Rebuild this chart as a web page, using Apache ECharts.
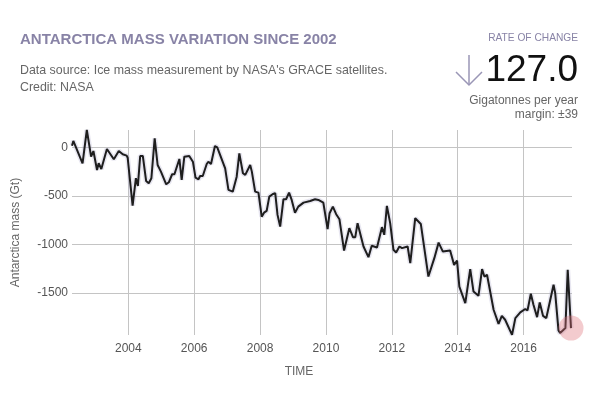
<!DOCTYPE html>
<html>
<head>
<meta charset="utf-8">
<script src="https://cdn.jsdelivr.net/npm/echarts@6/dist/echarts.min.js"></script>
<style>
html,body{margin:0;padding:0;background:#fff;}
#chart{width:600px;height:394px;}
</style>
</head>
<body>
<div id="chart"></div>
<script>
var years = [
2002.29,2002.33,2002.61,2002.74,2002.87,2002.94,2003.05,2003.10,2003.18,2003.35,
2003.56,2003.71,2003.83,2003.95,2003.98,2004.13,2004.23,2004.29,2004.36,2004.44,
2004.54,2004.62,2004.70,2004.80,2004.89,2004.99,2005.15,2005.23,2005.33,2005.40,
2005.55,2005.62,2005.70,2005.85,2005.96,2006.04,2006.13,2006.18,2006.26,2006.38,
2006.43,2006.51,2006.63,2006.70,2006.94,2007.04,2007.09,2007.17,2007.29,2007.37,
2007.48,2007.55,2007.70,2007.75,2007.85,2007.95,2008.05,2008.12,2008.20,2008.28,
2008.39,2008.46,2008.53,2008.61,2008.71,2008.79,2008.88,2008.96,2009.06,2009.16,
2009.32,2009.52,2009.67,2009.77,2009.92,2009.98,2010.05,2010.11,2010.21,2010.31,
2010.41,2010.55,2010.71,2010.82,2010.89,2010.96,2011.14,2011.29,2011.39,2011.55,
2011.70,2011.77,2011.85,2011.95,2012.05,2012.13,2012.23,2012.31,2012.48,2012.56,
2012.71,2012.88,2013.11,2013.29,2013.42,2013.55,2013.77,2013.89,2013.98,2014.05,
2014.23,2014.38,2014.48,2014.63,2014.74,2014.81,2014.89,2015.09,2015.14,2015.24,
2015.29,2015.34,2015.44,2015.65,2015.75,2015.90,2016.05,2016.12,2016.22,2016.30,
2016.41,2016.49,2016.59,2016.69,2016.91,2016.96,2017.06,2017.11,2017.27,2017.34,
2017.44
];
// Antarctica mass change (Gt)
var massGt = [
16,65,-164,178,-96,-38,-233,-164,-223,-17,
-123,-38,-72,-86,-107,-600,-318,-397,-89,-89,
-346,-370,-318,92,-182,-250,-380,-360,-277,-277,
-120,-336,-96,-89,-148,-312,-329,-295,-295,-172,
-148,-172,13,0,-216,-438,-431,-456,-302,-62,
-267,-284,-182,-250,-456,-466,-713,-672,-654,-507,
-480,-472,-695,-815,-534,-534,-466,-541,-672,-610,
-569,-552,-534,-541,-569,-575,-842,-678,-610,-688,
-740,-1062,-832,-924,-924,-780,-1020,-1129,-1013,-1031,
-821,-900,-603,-780,-1054,-1082,-1020,-1037,-1020,-1191,
-729,-788,-1329,-1140,-980,-1072,-1062,-1209,-1165,-1432,
-1602,-1253,-1483,-1527,-1253,-1329,-1311,-1670,-1688,-1815,
-1825,-1733,-1773,-1928,-1756,-1698,-1663,-1677,-1506,-1619,
-1746,-1595,-1733,-1756,-1414,-1499,-1883,-1910,-1859,-1260,
-1859
];
var titleText = 'ANTARCTICA MASS VARIATION SINCE 2002';
var subtitleLines = ["Data source: Ice mass measurement by NASA's GRACE satellites.", 'Credit: NASA'];
var rateLabel = 'RATE OF CHANGE';
var rateValue = '127.0';
var rateUnit = 'Gigatonnes per year';
var rateMargin = 'margin: \u00b139';
var yAxisName = 'Antarctica mass (Gt)';
var xAxisName = 'TIME';

var seriesData = years.map(function (y, i) { return [y, massGt[i]]; });
var lastPoint = seriesData[seriesData.length - 1];
var FONT = '"Liberation Sans", Arial, sans-serif';
var LAV = '#8883a6';
function plain(v) { return String(Math.round(v)); }

var chart = echarts.init(document.getElementById('chart'), null, {renderer: 'canvas'});
chart.setOption({
  animation: false,
  backgroundColor: '#ffffff',
  textStyle: {fontFamily: FONT},
  grid: {left: 72, right: 28, top: 130, bottom: 59, containLabel: false, outerBoundsMode: 'none'},
  xAxis: {
    type: 'value',
    min: years[0],
    max: 2017.47,
    splitNumber: 7,
    axisLine: {show: false},
    axisTick: {show: false},
    axisLabel: {showMinLabel: false, showMaxLabel: false, formatter: plain, color: '#555', fontSize: 12, margin: 8, fontFamily: FONT},
    splitLine: {show: true, showMinLine: false, showMaxLine: false, lineStyle: {color: '#c4c4c4', width: 1}}
  },
  yAxis: {
    type: 'value',
    min: -1930,
    max: 178,
    splitNumber: 4,
    name: yAxisName,
    nameLocation: 'middle',
    nameGap: 50,
    nameTextStyle: {color: '#666', fontSize: 12, fontFamily: FONT},
    axisLine: {show: false},
    axisTick: {show: false},
    axisLabel: {showMinLabel: false, showMaxLabel: false, formatter: plain, color: '#555', fontSize: 12, margin: 4, fontFamily: FONT},
    splitLine: {show: true, showMinLine: false, showMaxLine: false, lineStyle: {color: '#c4c4c4', width: 1}}
  },
  series: [
    {
      type: 'line', data: seriesData, showSymbol: false, silent: true,
      lineStyle: {color: 'rgba(175,172,205,0.3)', width: 5}, z: 2
    },
    {
      type: 'line', data: seriesData, showSymbol: false,
      lineStyle: {color: '#1e1e1e', width: 2}, z: 3
    },
    {
      type: 'scatter', data: [lastPoint], symbolSize: 25,
      itemStyle: {color: 'rgba(222,110,120,0.45)'}, z: 4
    }
  ],
  graphic: [
    {type: 'text', x: 20, y: 40, style: {text: titleText, fill: LAV, font: 'bold 15px ' + FONT, textVerticalAlign: 'middle'}},
    {type: 'text', x: 20, y: 71, style: {text: subtitleLines[0], fill: '#666', font: '12.4px ' + FONT, textVerticalAlign: 'middle'}},
    {type: 'text', x: 20, y: 88, style: {text: subtitleLines[1], fill: '#666', font: '12.4px ' + FONT, textVerticalAlign: 'middle'}},
    {type: 'text', x: 578, y: 38, style: {text: rateLabel, fill: LAV, font: '10.2px ' + FONT, textAlign: 'right', textVerticalAlign: 'middle'}},
    {type: 'text', x: 578, y: 71, style: {text: rateValue, fill: '#111', font: '37px ' + FONT, textAlign: 'right', textVerticalAlign: 'middle'}},
    {type: 'text', x: 578, y: 101, style: {text: rateUnit, fill: '#666', font: '12px ' + FONT, textAlign: 'right', textVerticalAlign: 'middle'}},
    {type: 'text', x: 578, y: 115, style: {text: rateMargin, fill: '#666', font: '12px ' + FONT, textAlign: 'right', textVerticalAlign: 'middle'}},
    {type: 'polyline', shape: {points: [[469, 55], [469, 85]]}, style: {stroke: '#9a96b6', lineWidth: 1.5, fill: null}},
    {type: 'polyline', shape: {points: [[456, 72], [469, 85], [482, 72]]}, style: {stroke: '#9a96b6', lineWidth: 1.5, fill: null}},
    {type: 'text', x: 299, y: 372, style: {text: xAxisName, fill: '#666', font: '12px ' + FONT, textAlign: 'center', textVerticalAlign: 'middle'}}
  ]
});
</script>
</body>
</html>
